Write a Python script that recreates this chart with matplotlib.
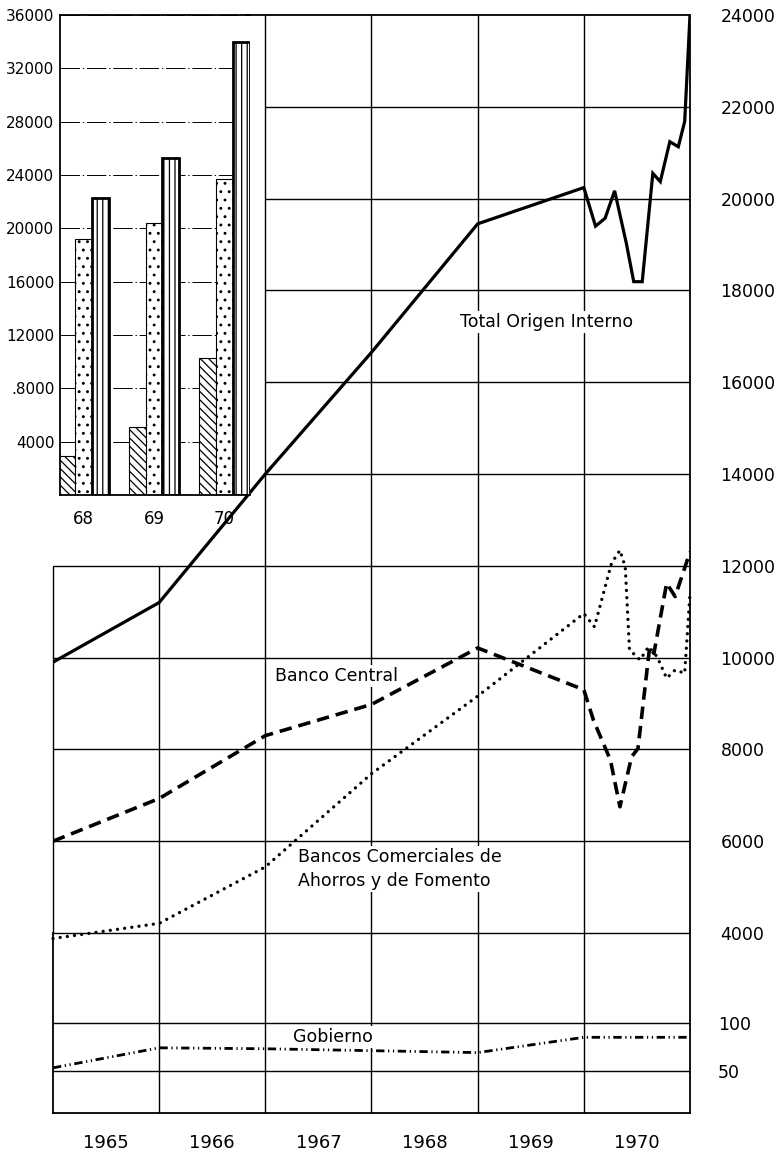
import matplotlib

matplotlib.use("Agg")
import matplotlib.pyplot as plt

# ---- data ----
years = [1965, 1966, 1967, 1968, 1969, 1970]

total_annual = [9900, 11200, 14000, 16650, 19450, 20240]
total_1970_x = [1970.11, 1970.20, 1970.29, 1970.40, 1970.47, 1970.55,
                1970.65, 1970.72, 1970.81, 1970.89, 1970.95, 1971.0]
total_1970 = [19400, 19570, 20170, 19030, 18190, 18190,
              20550, 20370, 21240, 21130, 21680, 24000]

central_annual = [6000, 6930, 8300, 8980, 10210, 9300]
central_1970_x = [1970.09, 1970.25, 1970.34, 1970.45, 1970.51,
                  1970.62, 1970.66, 1970.78, 1970.86, 1971.0]
central_1970 = [8640, 7770, 6750, 7840, 8020,
                10230, 10090, 11620, 11330, 12300]

comerc_annual = [3880, 4210, 5440, 7470, 9160, 10960]
comerc_1970_x = [1970.10, 1970.26, 1970.34, 1970.39, 1970.43, 1970.53,
                 1970.61, 1970.69, 1970.78, 1970.86, 1970.95, 1971.0]
comerc_1970 = [10670, 12050, 12340, 11980, 10170, 9950,
               10240, 10020, 9550, 9730, 9660, 11400]

gob_x = [1965, 1966, 1967, 1968, 1969, 1970, 1971]
gob = [53, 74, 73, 71, 69, 85, 85]

year_labels = ["1965", "1966", "1967", "1968", "1969", "1970"]
big_ticks = [4000, 6000, 8000, 10000, 12000, 14000, 16000, 18000,
             20000, 22000, 24000]
small_ticks = [50, 100]

bar_groups = ["68", "69", "70"]
bar_a = [2900, 5100, 10300]
bar_b = [19200, 20400, 23700]
bar_c = [22300, 25300, 34000]
bar_ticks = [4000, 8000, 12000, 16000, 20000, 24000, 28000, 32000, 36000]
bar_tick_labels = ["4000", ".8000", "12000", "16000", "20000", "24000",
                   "28000", "32000", "36000"]

plt.rcParams["lines.scale_dashes"] = False
plt.rcParams["hatch.linewidth"] = 0.9

W, H = 782, 1153
fig = plt.figure(figsize=(W / 100, H / 100), dpi=100)


def frac(x0, y0, x1, y1):
    return [x0 / W, 1 - y1 / H, (x1 - x0) / W, (y1 - y0) / H]


ax = fig.add_axes(frac(53, 15, 690, 933))
axg = fig.add_axes(frac(53, 933, 690, 1113))
axi = fig.add_axes(frac(60, 15, 250, 495))

GRID = dict(color="black", lw=1.0, zorder=1, clip_on=False)

# ---- upper (large values) panel ----
ax.set_xlim(1965, 1971)
ax.set_ylim(4000, 24000)
ax.set_facecolor("none")
for s in ("top", "left", "bottom"):
    ax.spines[s].set_visible(False)
ax.spines["right"].set_linewidth(1.3)
ax.set_xticks([])
ax.yaxis.tick_right()
ax.set_yticks(big_ticks)
ax.set_yticklabels([str(v) for v in big_ticks])
ax.tick_params(axis="y", length=0, pad=22, labelsize=12.5)

for lv in big_ticks[:-1]:
    ax.hlines(lv, 1965 if lv <= 12000 else 1967, 1971, **GRID)
ax.hlines(24000, 1966.8, 1971, color="black", lw=1.3, zorder=1, clip_on=False)
for yr in years:
    ax.vlines(yr, 4000, 12000 if yr < 1967 else 24000, **GRID)
ax.vlines(1965, 4000, 12000, color="black", lw=1.3, zorder=1)

ax.plot(years + total_1970_x, total_annual + total_1970, color="black",
        lw=2.3, zorder=3, solid_joinstyle="miter")
ax.plot(years + central_1970_x, central_annual + central_1970, color="black",
        lw=2.6, ls=(0, (9, 5)), zorder=3)
ax.plot(years + comerc_1970_x, comerc_annual + comerc_1970, color="black",
        lw=2.4, ls=(0, (0.01, 5.2)), dash_capstyle="round", zorder=3,
        clip_on=False)

box = dict(facecolor="white", edgecolor="none", pad=1.5)
ax.text(1969.65, 17310, "Total Origen Interno", fontsize=12.5, ha="center",
        va="center", bbox=box, zorder=2)
ax.text(1967.09, 9600, "Banco Central", fontsize=12.5, ha="left",
        va="center", bbox=box, zorder=2)
ax.text(1967.31, 5400, "Bancos Comerciales de\nAhorros y de Fomento",
        fontsize=12.5, ha="left", va="center", linespacing=1.45,
        bbox=box, zorder=2)

# ---- lower (Gobierno) panel ----
axg.set_xlim(1965, 1971)
axg.set_ylim(5.7, 194.3)
axg.set_facecolor("none")
axg.spines["top"].set_visible(False)
for s in ("left", "right", "bottom"):
    axg.spines[s].set_linewidth(1.3)
axg.set_xticks([y + 0.5 for y in years])
axg.set_xticklabels(year_labels)
axg.tick_params(axis="x", length=0, pad=15, labelsize=13)
axg.yaxis.tick_right()
axg.set_yticks(small_ticks)
axg.set_yticklabels([str(v) for v in small_ticks])
axg.tick_params(axis="y", length=0, pad=20, labelsize=12.5)
for lv in small_ticks:
    axg.hlines(lv, 1965, 1971, **GRID)
for yr in years[1:]:
    axg.vlines(yr, 5.7, 194.3, **GRID)
axg.plot(gob_x, gob, color="black", lw=2.0,
         ls=(0, (6, 2.6, 0.9, 2.6, 0.9, 2.6)), zorder=3)
axg.text(1967.64, 85.5, "Gobierno", fontsize=12.5, ha="center", va="center",
         bbox=box, zorder=2)

# ---- inset bar chart ----
axi.set_zorder(2)
axi.set_facecolor("white")
axi.set_xlim(-0.332, 2.36)
axi.set_ylim(0, 36000)
axi.spines["right"].set_visible(False)
for s in ("left", "top", "bottom"):
    axi.spines[s].set_linewidth(1.3)
axi.set_yticks(bar_ticks)
axi.set_yticklabels(bar_tick_labels)
axi.tick_params(axis="y", length=0, pad=4, labelsize=11)
axi.set_xticks(range(len(bar_groups)))
axi.set_xticklabels(bar_groups)
axi.tick_params(axis="x", length=0, pad=11, labelsize=12)
axi.set_axisbelow(True)
axi.yaxis.grid(True, color="black", lw=0.7, ls=(0, (14, 2, 1, 2)))

w = 0.24
pos = list(range(len(bar_groups)))
axi.bar([p - w for p in pos], bar_a, width=w, facecolor="white",
        edgecolor="black", lw=0.8, hatch="\\\\\\\\")
axi.bar(pos, bar_b, width=w, facecolor="white", edgecolor="black",
        lw=0.8, hatch="..")
axi.bar([p + w for p in pos], bar_c, width=w, facecolor="white",
        edgecolor="black", lw=2.0, hatch="|||")

fig.savefig("out.png", dpi=100)
